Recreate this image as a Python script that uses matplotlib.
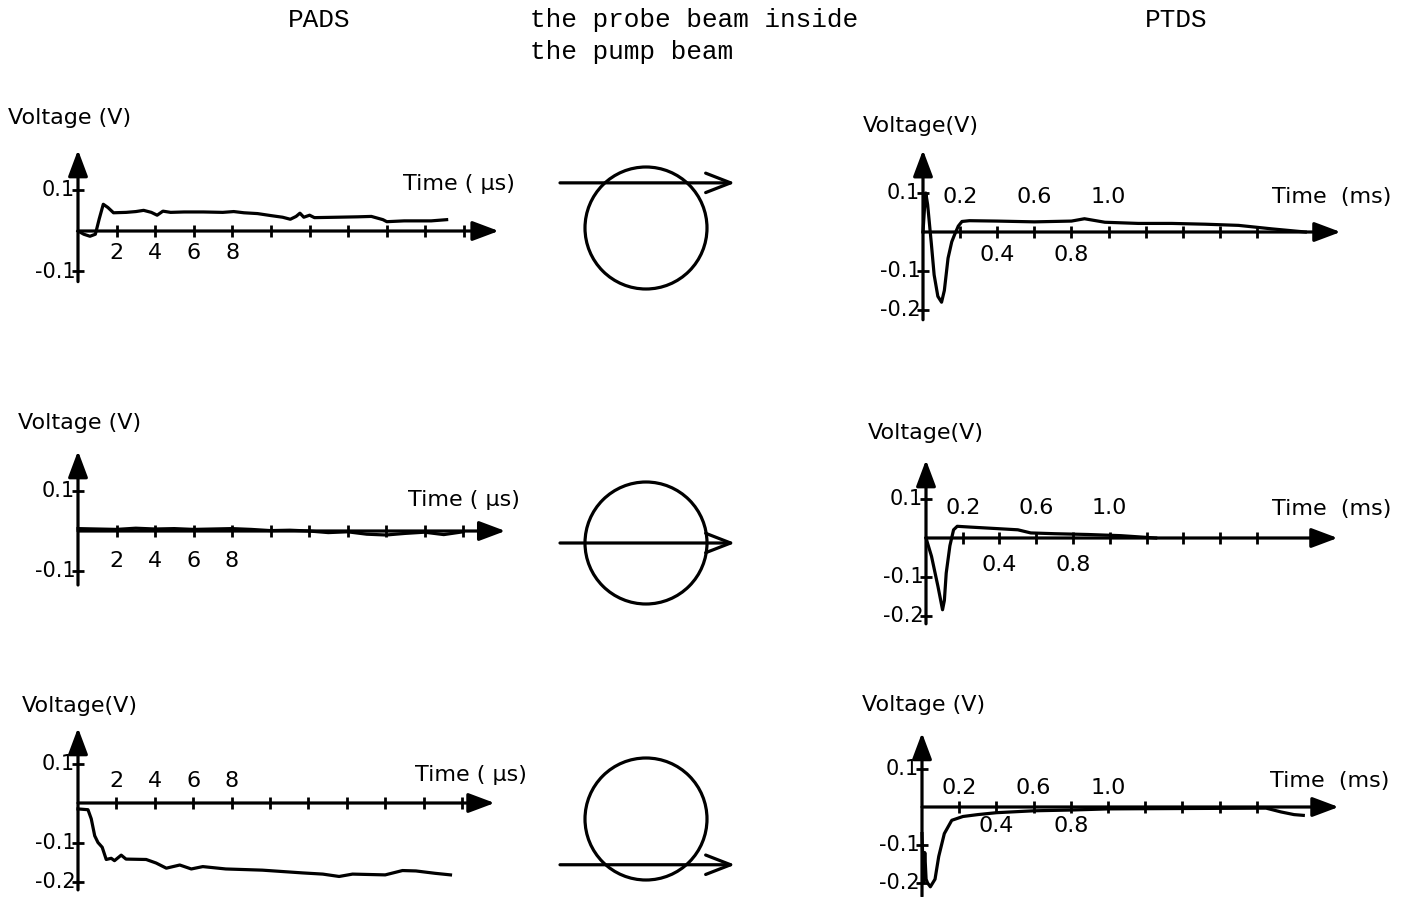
import matplotlib.pyplot as plt
from matplotlib.patches import Circle

plt.rcParams['font.family'] = ['DejaVu Sans']

# ---- data ----
# PADS, time in microseconds
pads_top_t = [0, 0.3, 0.62, 0.9, 1.1, 1.31, 1.55, 1.84, 2.5, 3.0, 3.4, 3.8, 4.1, 4.4, 4.8, 5.5, 6.5,
              7.5, 8.07, 8.6, 9.3, 10.0, 10.6, 11.0, 11.3, 11.5, 11.7, 12.0, 12.25, 13.4, 14.5, 15.2,
              15.8, 16.0, 16.9, 18.3, 19.1]
pads_top_v = [0, -0.008, -0.013, -0.008, 0.03, 0.066, 0.058, 0.045, 0.046, 0.048, 0.051, 0.046, 0.039,
              0.049, 0.046, 0.047, 0.047, 0.046, 0.048, 0.045, 0.043, 0.038, 0.034, 0.029, 0.036, 0.044,
              0.034, 0.039, 0.033, 0.034, 0.035, 0.036, 0.028, 0.023, 0.025, 0.025, 0.028]

pads_mid_t = [0, 1, 2, 3, 4, 5, 6, 7, 8, 9, 10, 11, 12, 13, 14, 15, 16, 17, 18, 19, 20]
pads_mid_v = [0.006, 0.005, 0.004, 0.007, 0.005, 0.006, 0.004, 0.005, 0.006, 0.004, 0.001, 0.002, 0.0,
              -0.004, -0.002, -0.008, -0.01, -0.006, -0.003, -0.009, -0.002]

pads_bot_t = [0, 0.52, 0.69, 0.87, 1.04, 1.26, 1.47, 1.73, 1.9, 2.25, 2.5, 3.55, 4.07, 4.6, 5.3, 5.9,
              6.5, 7.7, 9.6, 11.7, 12.75, 13.6, 14.3, 16.0, 16.9, 17.6, 18.6, 19.4]
pads_bot_v = [-0.015, -0.017, -0.04, -0.083, -0.1, -0.112, -0.143, -0.14, -0.146, -0.132, -0.142,
              -0.143, -0.152, -0.165, -0.157, -0.167, -0.161, -0.167, -0.17, -0.177, -0.18, -0.186,
              -0.18, -0.182, -0.171, -0.172, -0.178, -0.182]

# PTDS, time in milliseconds
ptds_top_t = [0, 0.008, 0.015, 0.025, 0.035, 0.045, 0.06, 0.08, 0.1, 0.115, 0.135, 0.155, 0.17, 0.19,
              0.21, 0.25, 0.4, 0.6, 0.8, 0.87, 0.98, 1.16, 1.34, 1.52, 1.7, 1.88, 2.06]
ptds_top_v = [0, 0.06, 0.1, 0.07, 0.02, -0.03, -0.11, -0.165, -0.18, -0.15, -0.067, -0.025, -0.007,
              0.015, 0.027, 0.029, 0.028, 0.026, 0.028, 0.034, 0.025, 0.022, 0.022, 0.02, 0.017, 0.008, 0.0]

ptds_mid_t = [0, 0.03, 0.065, 0.09, 0.1, 0.11, 0.13, 0.15, 0.17, 0.24, 0.39, 0.5, 0.57, 0.7, 0.88, 1.06, 1.25]
ptds_mid_v = [0, -0.047, -0.124, -0.184, -0.16, -0.09, -0.02, 0.021, 0.03, 0.028, 0.024, 0.021, 0.013,
              0.011, 0.009, 0.006, 0.0]

ptds_bot_t = [0, 0.008, 0.015, 0.022, 0.03, 0.045, 0.07, 0.09, 0.12, 0.16, 0.22, 0.3, 0.4, 0.6, 0.8,
              1.0, 1.4, 1.85, 1.93, 2.0, 2.05]
ptds_bot_v = [-0.07, -0.2, -0.12, -0.19, -0.2, -0.21, -0.19, -0.13, -0.07, -0.035, -0.025, -0.02,
              -0.015, -0.01, -0.008, -0.005, -0.004, -0.003, -0.013, -0.02, -0.022]

us_ticks = [2, 4, 6, 8, 10, 12, 14, 16, 18, 20]
us_labels = {2: '2', 4: '4', 6: '6', 8: '8'}
ms_ticks = [0.2, 0.4, 0.6, 0.8, 1.0, 1.2, 1.4, 1.6, 1.8]
ms_labels_above = {0.2: '0.2', 0.6: '0.6', 1.0: '1.0'}
ms_labels_below = {0.4: '0.4', 0.8: '0.8'}
pads_yticks = {0.1: '0.1', -0.1: '-0.1'}
pads_bot_yticks = {0.1: '0.1', -0.1: '-0.1', -0.2: '-0.2'}
ptds_yticks = {0.1: '0.1', -0.1: '-0.1', -0.2: '-0.2'}

# probe beam offset from pump-beam centre, in pump radii
probe_offset = [0.74, 0.0, -0.75]

W, H = 1419, 897
fig = plt.figure(figsize=(W / 100, H / 100), dpi=100)
LW = 2.3
FS = 16


def add_px_axes(left, top, right, bottom):
    ax = fig.add_axes([left / W, 1 - bottom / H, (right - left) / W, (bottom - top) / H])
    ax.set_axis_off()
    return ax


def fig_text(x, y, s, **kw):
    fig.text(x / W, 1 - y / H, s, va='center', **kw)


def panel(t, v, ox, oy, sx, sy, x_end, y_top, y_bottom, xticks, yticks,
          above=None, below=None, above_dy=0, below_dy=0):
    x0, x1 = -75 / sx, x_end + 12 / sx
    y0, y1 = y_bottom - 12 / sy, y_top + 12 / sy
    ax = add_px_axes(ox + x0 * sx, oy - y1 * sy, ox + x1 * sx, oy - y0 * sy)
    ax.set_xlim(x0, x1)
    ax.set_ylim(y0, y1)

    arrow = dict(arrowstyle='-|>,head_length=0.8,head_width=0.3', lw=LW, color='black',
                 mutation_scale=20, shrinkA=0, shrinkB=0)
    ax.annotate('', xy=(x_end, 0), xytext=(0, 0), arrowprops=arrow, annotation_clip=False)
    ax.annotate('', xy=(0, y_top), xytext=(0, y_bottom), arrowprops=arrow, annotation_clip=False)

    ax.plot(xticks, [0] * len(xticks), ls='none', marker='|', ms=9, mew=2, color='black', clip_on=False)
    ax.plot([0] * len(yticks), list(yticks), ls='none', marker='_', ms=9, mew=2, color='black',
            clip_on=False)
    for val, lab in yticks.items():
        ax.annotate(lab, (0, val), xytext=(-2, 0), textcoords='offset points', ha='right',
                    va='center', fontsize=FS - 1)
    for val, lab in (above or {}).items():
        ax.annotate(lab, (val, 0), xytext=(0, above_dy / 1.389), textcoords='offset points',
                    ha='center', va='center', fontsize=FS)
    for val, lab in (below or {}).items():
        ax.annotate(lab, (val, 0), xytext=(0, below_dy / 1.389), textcoords='offset points',
                    ha='center', va='center', fontsize=FS)

    ax.plot(t, v, color='black', lw=LW, solid_joinstyle='round', clip_on=False)
    return ax


# PADS column
panel(pads_top_t, pads_top_v, 78, 231, 19.3, 405, 21.8, 0.2, -0.125, us_ticks, pads_yticks,
      below=us_labels, below_dy=-22)
panel(pads_mid_t, pads_mid_v, 78, 531, 19.25, 400, 22.2, 0.2, -0.135, us_ticks, pads_yticks,
      below=us_labels, below_dy=-30)
panel(pads_bot_t, pads_bot_v, 78, 803, 19.2, 395, 21.7, 0.19, -0.22, us_ticks, pads_bot_yticks,
      above=us_labels, above_dy=22)

# PTDS column
panel(ptds_top_t, ptds_top_v, 923, 232, 185.6, 390, 2.25, 0.21, -0.225, ms_ticks, ptds_yticks,
      above=ms_labels_above, below=ms_labels_below, above_dy=35, below_dy=-23)
panel(ptds_mid_t, ptds_mid_v, 926, 538, 183.75, 390, 2.24, 0.2, -0.22, ms_ticks, ptds_yticks,
      above=ms_labels_above, below=ms_labels_below, above_dy=30, below_dy=-27)
panel(ptds_bot_t, ptds_bot_v, 922, 807, 186, 380, 2.24, 0.195, -0.235, ms_ticks, ptds_yticks,
      above=ms_labels_above, below=ms_labels_below, above_dy=19, below_dy=-19)

# axis titles
lab_fs = 16
fig_text(8, 118, 'Voltage (V)', fontsize=lab_fs)
fig_text(403, 184, 'Time ( \u03bcs)', fontsize=lab_fs)
fig_text(18, 423, 'Voltage (V)', fontsize=lab_fs)
fig_text(408, 500, 'Time ( \u03bcs)', fontsize=lab_fs)
fig_text(22, 706, 'Voltage(V)', fontsize=lab_fs)
fig_text(415, 775, 'Time ( \u03bcs)', fontsize=lab_fs)
fig_text(863, 126, 'Voltage(V)', fontsize=lab_fs)
fig_text(1272, 197, 'Time  (ms)', fontsize=lab_fs)
fig_text(868, 433, 'Voltage(V)', fontsize=lab_fs)
fig_text(1272, 509, 'Time  (ms)', fontsize=lab_fs)
fig_text(862, 705, 'Voltage (V)', fontsize=lab_fs)
fig_text(1270, 781, 'Time  (ms)', fontsize=lab_fs)

# column headers
mono = dict(family='Liberation Mono', fontsize=18.8)
fig_text(288, 20, 'PADS', **mono)
fig_text(530, 20, 'the probe beam inside', **mono)
fig_text(530, 52, 'the pump beam', **mono)
fig_text(1145, 20, 'PTDS', **mono)

# beam diagrams (units of pump radius)
cx, r = 646, 61
for cy, off in zip([228, 543, 819], probe_offset):
    ax = add_px_axes(540, cy - 85, 760, cy + 85)
    ax.set_xlim((540 - cx) / r, (760 - cx) / r)
    ax.set_ylim(-85 / r, 85 / r)
    ax.add_patch(Circle((0, 0), 1, fill=False, lw=LW, color='black'))
    ax.annotate('', xy=(1.46, off), xytext=(-1.41, off),
                arrowprops=dict(arrowstyle='->,head_length=0.9,head_width=0.35', lw=LW,
                                color='black', mutation_scale=20, shrinkA=0, shrinkB=0))

fig.savefig('out.png', dpi=100, facecolor='white')
